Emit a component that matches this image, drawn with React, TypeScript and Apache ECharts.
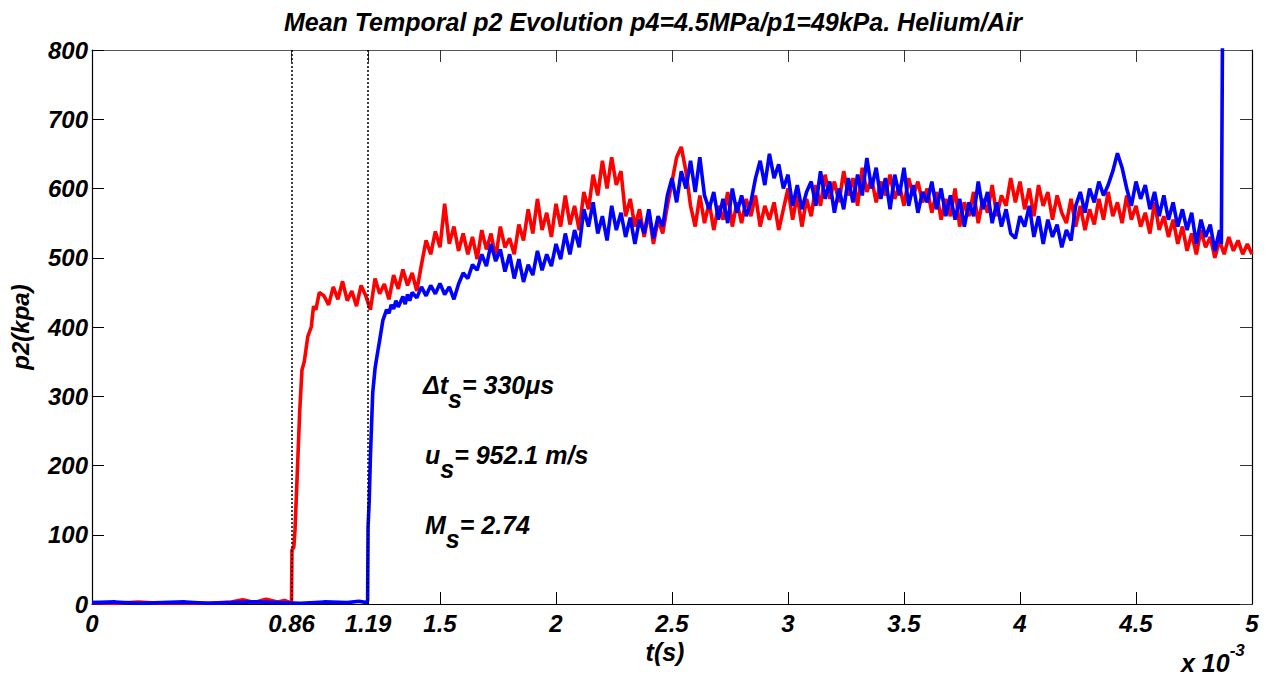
import React, { useEffect, useRef } from "react";
import * as echarts from "echarts";

const TITLE = "Mean Temporal p2 Evolution p4=4.5MPa/p1=49kPa. Helium/Air";
const X_NAME = "t(s)";
const Y_NAME = "p2(kpa)";
const xTicks = [0, 0.86, 1.19, 1.5, 2, 2.5, 3, 3.5, 4, 4.5, 5];
const xTopTicks = [0.86, 1.19, 1.5, 2, 2.5, 3, 3.5, 4, 4.5];
const yTicks = [0, 100, 200, 300, 400, 500, 600, 700, 800];
const shockTimes = [0.86, 1.19];

// time in units of 1e-3 s, pressure in kPa
const sampleStep = 0.02;

// red trace: lead-in and shock arrival (irregular sample times)
const redLeadT = [0, 0.1, 0.2, 0.3, 0.4, 0.5, 0.6, 0.65, 0.7, 0.75, 0.8, 0.83, 0.855, 0.86, 0.862, 0.87, 0.875, 0.885, 0.895, 0.905, 0.915, 0.93, 0.945, 0.955, 0.965, 0.98];
const redLeadP = [2, 1, 3, 1, 2, 1, 3, 6, 2, 7, 3, 5, 2, 5, 78, 82, 107, 190, 276, 338, 350, 386, 400, 430, 425, 450];
// red trace: regular samples from 1.00 to 5.00
const redStart = 1.0;
const redP = [
  445, 432, 458, 440, 466, 438, 452, 430, 460, 445, 425,
  470, 448, 462, 440, 475, 455, 483, 460, 478, 452, 490,
  525, 505, 538, 515, 578, 520, 545, 510, 535,
  505, 530, 498, 540, 512, 535, 500, 545, 515, 528, 505, 548,
  525, 570, 535, 585, 540, 565, 530, 578, 545, 590, 548, 575, 540,
  595, 570, 620, 590, 640, 600, 645, 605, 625,
  560, 585, 545, 570, 530, 565, 520, 555, 535, 575,
  610, 645, 660, 625,
  575, 545, 590, 550, 580, 540, 575, 555, 595, 545, 580, 550, 585, 560, 590, 545, 575, 555, 580, 540,
  570, 600, 555, 590, 545, 585, 560, 605, 575, 620, 585, 610, 580, 625, 590, 615, 575, 630, 595, 615, 580, 610, 590, 620, 585, 605, 575, 615, 590, 610, 580,
  600, 565, 595, 555, 585, 560, 600, 545, 580, 560, 595, 550, 585, 565, 605, 560, 590, 575, 615,
  580, 610, 570, 600, 560, 605, 575, 595, 555, 590, 565, 550, 585,
  545, 575, 540, 570, 548, 585, 555, 595, 560, 580, 550, 590, 555, 575, 545, 565, 535, 580, 540, 560, 530,
  555, 520, 545, 510, 535, 505, 540, 515, 530, 500, 525, 505, 530, 510, 525, 505, 520, 505,
];

// blue trace: lead-in and shock arrival
const blueLeadT = [0, 0.1, 0.2, 0.3, 0.4, 0.5, 0.6, 0.7, 0.8, 0.9, 1.0, 1.1, 1.15, 1.185, 1.188, 1.19, 1.195, 1.2, 1.21, 1.22, 1.228, 1.24, 1.254, 1.27, 1.28, 1.29, 1.30, 1.31, 1.32, 1.33, 1.34, 1.35, 1.36, 1.37, 1.38];
const blueLeadP = [2, 3, 1, 2, 3, 1, 2, 3, 2, 1, 3, 2, 4, 2, 5, 111, 150, 212, 305, 340, 357, 381, 410, 425, 420, 432, 426, 438, 429, 436, 444, 433, 447, 438, 450];
// blue trace: regular samples from 1.40 to 4.86
const blueStart = 1.4;
const blueP = [
  442, 458, 445, 460, 448, 463, 447, 458, 440, 462,
  478, 470, 490, 482, 505, 488, 520, 495, 512,
  480, 505, 470, 498, 465, 490, 475, 510, 482, 505, 488,
  520, 498, 535, 505, 540, 515,
  570, 545, 580, 535, 560, 525, 575, 540, 565, 530, 558, 520, 555, 535, 570, 528, 560, 545,
  590, 615, 580, 625, 600, 640, 595, 645, 590,
  570, 595, 555, 585, 550, 600, 565, 590, 560, 580,
  615, 640, 605, 650, 615, 635,
  600, 620, 575, 605, 570, 595,
  610, 575, 625, 585, 610, 565, 600, 570, 615, 580, 620, 590,
  644,
  600, 630, 585, 615, 570, 620, 590, 630, 575, 605, 565, 595, 580, 610, 570,
  600, 560, 590, 555, 585, 545, 580, 560, 610, 570, 595, 550, 580, 545, 570, 535, 528, 560,
  545, 575, 530, 560, 520, 555, 530, 548, 515, 540, 525,
  575, 595, 565, 600, 580, 610, 590, 605,
  625, 651, 630,
  600, 575, 610, 585, 605, 570, 595, 560, 590, 555, 580, 545, 570,
  540, 565, 520, 555, 530, 548, 510, 540,
];
// blue trace: final spike
const blueTailT = [4.868, 4.874];
const blueTailP = [520, 900];

const FONT = "'Liberation Sans', Arial, Helvetica, sans-serif";
const RED = "#ff0000";
const BLUE = "#0000ff";

function buildSeries(leadT: number[], leadP: number[], start: number, vals: number[], tailT: number[] = [], tailP: number[] = []) {
  const out: number[][] = [];
  leadT.forEach((t, i) => out.push([t, leadP[i]]));
  vals.forEach((v, i) => out.push([+(start + i * sampleStep).toFixed(3), v]));
  tailT.forEach((t, i) => out.push([t, tailP[i]]));
  return out;
}

const textBase = { fontFamily: FONT, fontWeight: "bold" as const, fontStyle: "italic" as const, fill: "#000" };

export default function App() {
  const ref = useRef<HTMLDivElement>(null);
  useEffect(() => {
    if (!ref.current) return;
    const chart = echarts.init(ref.current, undefined, { renderer: "svg" });
    const redData = buildSeries(redLeadT, redLeadP, redStart, redP);
    const blueData = buildSeries(blueLeadT, blueLeadP, blueStart, blueP, blueTailT, blueTailP);
    const tickFont = { fontFamily: FONT, fontWeight: "bold", fontStyle: "italic", fontSize: 24, color: "#000" };
    const annRich = {
      m: { ...textBase, fontSize: 25 },
      s: { ...textBase, fontSize: 25, padding: [28, 0, 0, 0] },
      sup: { ...textBase, fontSize: 17, padding: [0, 0, 26, 0] },
    };
    chart.setOption({
      animation: false,
      backgroundColor: "#fff",
      title: {
        text: TITLE,
        left: 648,
        textAlign: "center",
        top: 4,
        textStyle: { fontFamily: FONT, fontWeight: "bold", fontStyle: "italic", fontSize: 25, color: "#000" },
      },
      grid: { left: 92, right: 22, top: 50, bottom: 74, containLabel: false },
      xAxis: [
        {
          type: "value",
          min: 0,
          max: 5,
          position: "bottom",
          axisLine: { show: true, onZero: false, lineStyle: { color: "#000", width: 1.2 } },
          axisTick: { show: true, inside: true, length: 12, customValues: xTicks, lineStyle: { color: "#000" } },
          axisLabel: { show: true, customValues: xTicks, margin: 7, formatter: (v: number) => String(v), ...tickFont },
          splitLine: { show: false },
        },
        {
          type: "value",
          min: 0,
          max: 5,
          position: "top",
          axisLine: { show: true, onZero: false, lineStyle: { color: "#555", width: 1.2 } },
          axisTick: { show: true, inside: true, length: 12, customValues: xTopTicks, lineStyle: { color: "#333" } },
          axisLabel: { show: false },
          splitLine: { show: false },
        },
      ],
      yAxis: [
        {
          type: "value",
          min: 0,
          max: 800,
          interval: 100,
          position: "left",
          axisLine: { show: true, onZero: false, lineStyle: { color: "#000", width: 1.2 } },
          axisTick: { show: true, inside: true, length: 12, customValues: yTicks, lineStyle: { color: "#000" } },
          axisLabel: { show: true, margin: 4, customValues: yTicks, ...tickFont },
          splitLine: { show: false },
        },
        {
          type: "value",
          min: 0,
          max: 800,
          interval: 100,
          position: "right",
          axisLine: { show: true, onZero: false, lineStyle: { color: "#000", width: 1.2 } },
          axisTick: { show: true, inside: true, length: 12, lineStyle: { color: "#333" } },
          axisLabel: { show: false },
          splitLine: { show: false },
        },
      ],
      series: [
        {
          type: "line",
          name: "p2 station 1",
          data: redData,
          xAxisIndex: 0,
          yAxisIndex: 0,
          showSymbol: false,
          symbol: "none",
          lineStyle: { color: RED, width: 3.6 },
          itemStyle: { color: RED },
          markLine: {
            silent: true,
            symbol: ["none", "none"],
            label: { show: false },
            lineStyle: { type: [2, 2], color: "#000", width: 1.5 },
            data: shockTimes.map((t) => ({ xAxis: t })),
          },
          z: 2,
        },
        {
          type: "line",
          name: "p2 station 2",
          data: blueData,
          xAxisIndex: 0,
          yAxisIndex: 0,
          showSymbol: false,
          symbol: "none",
          lineStyle: { color: BLUE, width: 3.6 },
          itemStyle: { color: BLUE },
          z: 3,
        },
      ],
      graphic: [
        {
          type: "text",
          x: 20,
          y: 327,
          rotation: Math.PI / 2,
          style: { ...textBase, text: Y_NAME, fontSize: 24, align: "center", verticalAlign: "middle" },
        },
        {
          type: "text",
          x: 665,
          y: 652,
          style: { ...textBase, text: X_NAME, fontSize: 25, align: "center", verticalAlign: "middle" },
        },
        {
          type: "text",
          x: 1181,
          y: 663,
          style: { text: "{m|x 10}{sup|-3}", rich: annRich, verticalAlign: "middle", align: "left" },
        },
        {
          type: "text",
          x: 423,
          y: 385,
          style: { text: "{m|\u0394t}{s|s}{m|= 330\u03BCs}", rich: annRich, verticalAlign: "middle", align: "left" },
        },
        {
          type: "text",
          x: 425,
          y: 455,
          style: { text: "{m|u}{s|s}{m|= 952.1 m/s}", rich: annRich, verticalAlign: "middle", align: "left" },
        },
        {
          type: "text",
          x: 425,
          y: 525,
          style: { text: "{m|M}{s|s}{m|= 2.74}", rich: annRich, verticalAlign: "middle", align: "left" },
        },
      ],
    });
    return () => chart.dispose();
  }, []);
  return <div ref={ref} style={{ position: "fixed", left: 0, top: 0, width: 1274, height: 678 }} />;
}
